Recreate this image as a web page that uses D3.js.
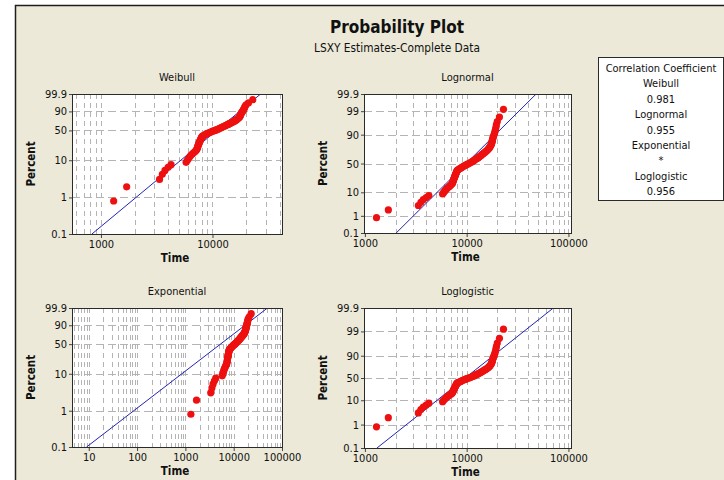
<!DOCTYPE html>
<html>
<head>
<meta charset="utf-8">
<script src="https://cdn.jsdelivr.net/npm/d3@7"></script>
<style>
  body { margin: 0; background: #fff; }
  svg { display: block; font-family: Tahoma, "DejaVu Sans", sans-serif; font-stretch: semi-condensed; }
</style>
</head>
<body>
<div id="chart"></div>
<script>
// failure times (same sample in every panel)
var failureTimes = [1300, 1700, 3350, 3550, 3750, 4000, 4250, 5800, 5950, 6100,
  6250, 6400, 6600, 6800, 7000, 7150, 7250, 7300, 7350, 7400,
  7450, 7500, 7550, 7600, 7650, 7700, 7750, 7800, 7850, 7900,
  7950, 8000, 8050, 8150, 8350, 8550, 8750, 8950, 9150, 9400,
  9650, 9900, 10200, 10500, 10800, 11100, 11400, 11600, 11900, 12100,
  12400, 12700, 13000, 13200, 13500, 13800, 14000, 14300, 14600, 14900,
  15200, 15500, 15800, 16100, 16300, 16600, 16800, 17000, 17200, 17400,
  17550, 17650, 17750, 17850, 17950, 18050, 18200, 18400, 18600, 18800,
  19000, 19200, 19400, 19600, 20000, 21000, 23000];

// plotting positions (percent)
var plotPercents = [0.80, 1.95, 3.09, 4.23, 5.38, 6.52, 7.67, 8.81, 9.95, 11.10,
  12.24, 13.39, 14.53, 15.68, 16.82, 17.96, 19.11, 20.25, 21.40, 22.54,
  23.68, 24.83, 25.97, 27.12, 28.26, 29.41, 30.55, 31.69, 32.84, 33.98,
  35.13, 36.27, 37.41, 38.56, 39.70, 40.85, 41.99, 43.14, 44.28, 45.42,
  46.57, 47.71, 48.86, 50.00, 51.14, 52.29, 53.43, 54.58, 55.72, 56.86,
  58.01, 59.15, 60.30, 61.44, 62.59, 63.73, 64.87, 66.02, 67.16, 68.31,
  69.45, 70.59, 71.74, 72.88, 74.03, 75.17, 76.32, 77.46, 78.60, 79.75,
  80.89, 82.04, 83.18, 84.32, 85.47, 86.61, 87.76, 88.90, 90.05, 91.19,
  92.33, 93.48, 94.62, 95.77, 96.91, 98.05, 99.20];

// fitted lines: [time, percent] end points
var weibullFit = [[830, 0.1], [27000, 99.9]];
var lognormalFit = [[2030, 0.1], [48200, 99.9]];
var exponentialFit = [[9, 0.1], [50000, 99.9]];
var loglogisticFit = [[1315, 0.1], [71000, 99.9]];

var weibullPctTicks = [0.1, 1, 10, 50, 90, 99.9];
var lognormalPctTicks = [0.1, 1, 10, 50, 90, 99, 99.9];
var exponentialPctTicks = [0.1, 1, 10, 50, 90, 99.9];
var loglogisticPctTicks = [0.1, 1, 10, 50, 90, 99, 99.9];

var weibullTimeTicks = [1000, 10000];
var lognormalTimeTicks = [1000, 10000, 100000];
var exponentialTimeTicks = [10, 100, 1000, 10000, 100000];
var loglogisticTimeTicks = [1000, 10000, 100000];

var corrNames = ["Weibull", "Lognormal", "Exponential", "Loglogistic"];
var corrValues = ["0.981", "0.955", "*", "0.956"];

// inverse normal cdf (Acklam)
function qnorm(p) {
  var a = [-3.969683028665376e+01, 2.209460984245205e+02, -2.759285104469687e+02, 1.383577518672690e+02, -3.066479806614716e+01, 2.506628277459239e+00];
  var b = [-5.447609879822406e+01, 1.615858368580409e+02, -1.556989798598866e+02, 6.680131188771972e+01, -1.328068155288572e+01];
  var c = [-7.784894002430293e-03, -3.223964580411365e-01, -2.400758277161838e+00, -2.549671010114824e+00, 4.374664141464968e+00, 2.938163982698783e+00];
  var d = [7.784695709041462e-03, 3.224671290700398e-01, 2.445134137142996e+00, 3.754408661907416e+00];
  var q, r;
  if (p < 0.02425) {
    q = Math.sqrt(-2 * Math.log(p));
    return (((((c[0]*q+c[1])*q+c[2])*q+c[3])*q+c[4])*q+c[5]) / ((((d[0]*q+d[1])*q+d[2])*q+d[3])*q+1);
  }
  if (p > 1 - 0.02425) {
    q = Math.sqrt(-2 * Math.log(1 - p));
    return -(((((c[0]*q+c[1])*q+c[2])*q+c[3])*q+c[4])*q+c[5]) / ((((d[0]*q+d[1])*q+d[2])*q+d[3])*q+1);
  }
  q = p - 0.5; r = q * q;
  return (((((a[0]*r+a[1])*r+a[2])*r+a[3])*r+a[4])*r+a[5])*q / (((((b[0]*r+b[1])*r+b[2])*r+b[3])*r+b[4])*r+1);
}

var transforms = {
  weibull: function(p){ return Math.log10(-Math.log(1 - p / 100)); },
  normal: function(p){ return qnorm(p / 100); },
  logit: function(p){ p = p / 100; return Math.log(p / (1 - p)); }
};

var panels = [
  {title: "Weibull", x0: 72, x1: 282, y0: 94, y1: 234, tDomain: [550, 42000], tf: transforms.weibull,
   pTicks: weibullPctTicks, tTicks: weibullTimeTicks, fit: weibullFit},
  {title: "Lognormal", x0: 364, x1: 571, y0: 94, y1: 233, tDomain: [980, 106000], tf: transforms.normal,
   pTicks: lognormalPctTicks, tTicks: lognormalTimeTicks, fit: lognormalFit},
  {title: "Exponential", x0: 72, x1: 282, y0: 308, y1: 447, tDomain: [4.5, 100000], tf: transforms.weibull,
   pTicks: exponentialPctTicks, tTicks: exponentialTimeTicks, fit: exponentialFit},
  {title: "Loglogistic", x0: 364, x1: 571, y0: 308, y1: 448, tDomain: [980, 106000], tf: transforms.logit,
   pTicks: loglogisticPctTicks, tTicks: loglogisticTimeTicks, fit: loglogisticFit}
];

var width = 724, height = 480;
var fontFam = "Tahoma, 'DejaVu Sans', sans-serif";

var svg = d3.select("#chart").append("svg")
  .attr("width", width)
  .attr("height", height);

// window frame
svg.append("rect")
  .attr("x", 15.5).attr("y", 5.5)
  .attr("width", 730).attr("height", 490)
  .attr("fill", "#ece9d8")
  .attr("stroke", "#1e1e1e")
  .attr("stroke-width", 1.5);

svg.append("text")
  .attr("x", 397).attr("y", 33)
  .attr("text-anchor", "middle")
  .attr("font-size", "17px")
  .attr("font-weight", "bold")
  .attr("fill", "#111")
  .text("Probability Plot");

svg.append("text")
  .attr("x", 397).attr("y", 52)
  .attr("text-anchor", "middle")
  .attr("font-size", "11.8px")
  .attr("fill", "#111")
  .text("LSXY Estimates-Complete Data");

var points = failureTimes.map(function(t, i){ return {t: t, p: plotPercents[i]}; });

panels.forEach(function(pn, k){
  var x = d3.scaleLog().domain(pn.tDomain).range([pn.x0, pn.x1]);
  var y = d3.scaleLinear().domain([pn.tf(0.1), pn.tf(99.9)]).range([pn.y1, pn.y0]);
  var yp = function(p){ return y(pn.tf(p)); };

  var g = svg.append("g").attr("class", "panel");

  g.append("rect")
    .attr("x", pn.x0).attr("y", pn.y0)
    .attr("width", pn.x1 - pn.x0).attr("height", pn.y1 - pn.y0)
    .attr("fill", "#fff");

  // vertical grid
  g.selectAll(".vgrid")
    .data(x.ticks().filter(function(v){ return x(v) > pn.x0 + 1 && x(v) < pn.x1 - 1; }))
    .enter().append("line")
      .attr("class", "vgrid")
      .attr("x1", function(v){ return Math.round(x(v)) + 0.5; })
      .attr("x2", function(v){ return Math.round(x(v)) + 0.5; })
      .attr("y1", pn.y0).attr("y2", pn.y1)
      .attr("stroke", "#b4b4b4")
      .attr("stroke-dasharray", "5,4");

  // horizontal grid
  g.selectAll(".hgrid")
    .data(pn.pTicks.filter(function(p){ return p > 0.1 && p < 99.9; }))
    .enter().append("line")
      .attr("class", "hgrid")
      .attr("x1", pn.x0).attr("x2", pn.x1)
      .attr("y1", function(p){ return Math.round(yp(p)) + 0.5; })
      .attr("y2", function(p){ return Math.round(yp(p)) + 0.5; })
      .attr("stroke", "#b4b4b4")
      .attr("stroke-dasharray", "8,4");

  var clipId = "clip" + k;
  svg.append("clipPath").attr("id", clipId)
    .append("rect")
      .attr("x", pn.x0).attr("y", pn.y0)
      .attr("width", pn.x1 - pn.x0).attr("height", pn.y1 - pn.y0);

  var line = d3.line()
    .x(function(d){ return x(d[0]); })
    .y(function(d){ return yp(d[1]); });

  g.append("path")
    .datum(pn.fit)
    .attr("clip-path", "url(#" + clipId + ")")
    .attr("d", line)
    .attr("fill", "none")
    .attr("stroke", "#2323b4")
    .attr("stroke-width", 1);

  g.selectAll(".dot")
    .data(points)
    .enter().append("circle")
      .attr("class", "dot")
      .attr("cx", function(d){ return x(d.t); })
      .attr("cy", function(d){ return yp(d.p); })
      .attr("r", 3.6)
      .attr("fill", "#ee1010");

  g.append("rect")
    .attr("x", pn.x0 + 0.5).attr("y", pn.y0 + 0.5)
    .attr("width", pn.x1 - pn.x0).attr("height", pn.y1 - pn.y0)
    .attr("fill", "none")
    .attr("stroke", "#2a2a2a");

  // axes
  var xAxis = d3.axisBottom(x)
    .tickValues(pn.tTicks)
    .tickFormat(d3.format("d"))
    .tickSize(3)
    .tickPadding(2);

  var xg = g.append("g")
    .attr("transform", "translate(0," + (pn.y1 + 1) + ")")
    .call(xAxis);
  xg.select(".domain").remove();
  xg.selectAll("text").attr("font-size", "11px").attr("fill", "#111")
    .attr("font-family", fontFam);
  xg.selectAll("line").attr("stroke", "#444");

  var yAxis = d3.axisLeft(y)
    .tickValues(pn.pTicks.map(pn.tf))
    .tickFormat(function(d, i){ return pn.pTicks[i]; })
    .tickSize(3)
    .tickPadding(2);

  var yg = g.append("g")
    .attr("transform", "translate(" + pn.x0 + ",0)")
    .call(yAxis);
  yg.select(".domain").remove();
  yg.selectAll("text").attr("font-size", "11px").attr("fill", "#111")
    .attr("font-family", fontFam);
  yg.selectAll("line").attr("stroke", "#444");

  var cx = (pn.x0 + pn.x1) / 2;

  g.append("text")
    .attr("x", cx).attr("y", pn.y0 - 13)
    .attr("text-anchor", "middle")
    .attr("font-size", "11px")
    .attr("fill", "#111")
    .text(pn.title);

  g.append("text")
    .attr("x", cx - 2).attr("y", pn.y1 + 28)
    .attr("text-anchor", "middle")
    .attr("font-size", "11.5px")
    .attr("font-weight", "bold")
    .attr("fill", "#111")
    .text("Time");

  g.append("text")
    .attr("transform", "translate(" + (pn.x0 - 37) + "," + ((pn.y0 + pn.y1) / 2) + ")rotate(-90)")
    .attr("text-anchor", "middle")
    .attr("font-size", "11.5px")
    .attr("font-weight", "bold")
    .attr("fill", "#111")
    .text("Percent");
});

// correlation coefficient box
var box = svg.append("g");
box.append("rect")
  .attr("x", 598.5).attr("y", 57.5)
  .attr("width", 125).attr("height", 143)
  .attr("fill", "#fff")
  .attr("stroke", "#2a2a2a");

var boxLines = ["Correlation Coefficient"];
corrNames.forEach(function(n, i){ boxLines.push(n); boxLines.push(corrValues[i]); });

box.selectAll("text")
  .data(boxLines)
  .enter().append("text")
    .attr("x", 661)
    .attr("y", function(d, i){ return 72 + i * 15.4; })
    .attr("text-anchor", "middle")
    .attr("font-size", "11px")
    .attr("fill", "#111")
    .text(function(d){ return d; });
</script>
</body>
</html>
